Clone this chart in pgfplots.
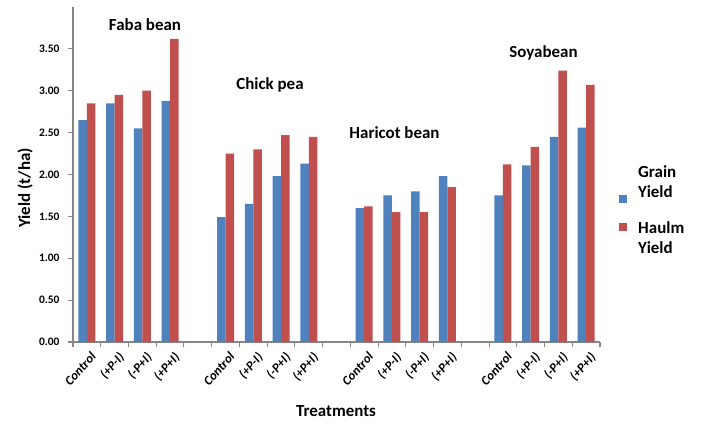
\documentclass[border=0pt]{standalone}
\usepackage{pgfplots}
\pgfplotsset{compat=1.18}
\usepackage{pgfplotstable}
\usepackage{fontspec}
\setmainfont{Carlito}
\definecolor{gblue}{HTML}{4F81BD}
\definecolor{hred}{HTML}{C0504D}
\definecolor{axgray}{HTML}{868686}
\pgfplotstableread{
x grain haulm
0 2.65 2.85
1 2.85 2.95
2 2.55 3.00
3 2.88 3.62
5 1.49 2.25
6 1.65 2.30
7 1.98 2.47
8 2.13 2.45
10 1.60 1.62
11 1.75 1.55
12 1.80 1.55
13 1.98 1.85
15 1.75 2.12
16 2.11 2.33
17 2.45 3.24
18 2.56 3.07
}\yielddata
\begin{document}
\begin{tikzpicture}[x=1bp,y=1bp]
\path[use as bounding box] (0,0) rectangle (701,423);
\begin{axis}[
  at={(73bp,81bp)}, anchor=south west,
  scale only axis, width=527bp, height=335bp,
  xmin=-0.5, xmax=18.5, ymin=0, ymax=4,
  ybar=0pt, bar width=8.5bp,
  axis x line*=bottom, axis y line*=left,
  axis line style={axgray, line width=1.3pt, -},
  xtick={0,1,2,3,5,6,7,8,10,11,12,13,15,16,17,18},
  xticklabels={Control,(+P-I),(-P+I),(+P+I),Control,(+P-I),(-P+I),(+P+I),Control,(+P-I),(-P+I),(+P+I),Control,(+P-I),(-P+I),(+P+I)},
  major x tick style={draw=none},
  minor xtick={-0.5,0.5,...,18.5},
  minor x tick style={axgray, line width=1.1pt},
  minor tick length=5bp,
  tick align=outside,
  ytick={0,0.5,...,3.5},
  major y tick style={axgray, line width=1.1pt},
  major tick length=5bp,
  /pgf/number format/assume math mode=true,
  yticklabel style={font=\fontsize{11.5}{13}\selectfont\bfseries, xshift=-5bp, /pgf/number format/fixed, /pgf/number format/fixed zerofill, /pgf/number format/precision=2},
  xticklabel style={font=\fontsize{13}{15}\selectfont\bfseries\itshape, rotate=48, anchor=north east, inner sep=1pt, yshift=-4bp},
  clip=false,
]
\addplot[fill=gblue, draw=none] table[x=x, y=grain] {\yielddata};
\addplot[fill=hred, draw=none] table[x=x, y=haulm] {\yielddata};
\end{axis}
\begin{scope}[every node/.style={font=\fontsize{17}{20}\selectfont\bfseries, inner sep=0pt}]
\node at (145,398) {Faba bean};
\node at (270,338) {Chick pea};
\node at (394.5,290) {Haricot bean};
\node at (543.5,370) {Soyabean};
\node[rotate=90] at (25,235) {Yield (t/ha)};
\node at (336,12) {Treatments};
\fill[gblue] (619,220) rectangle (627,228);
\fill[hred] (619,192) rectangle (627,200);
\node[anchor=west] at (638,251) {Grain};
\node[anchor=west] at (638,231) {Yield};
\node[anchor=west] at (638,195) {Haulm};
\node[anchor=west] at (638,175) {Yield};
\end{scope}
\end{tikzpicture}
\end{document}
